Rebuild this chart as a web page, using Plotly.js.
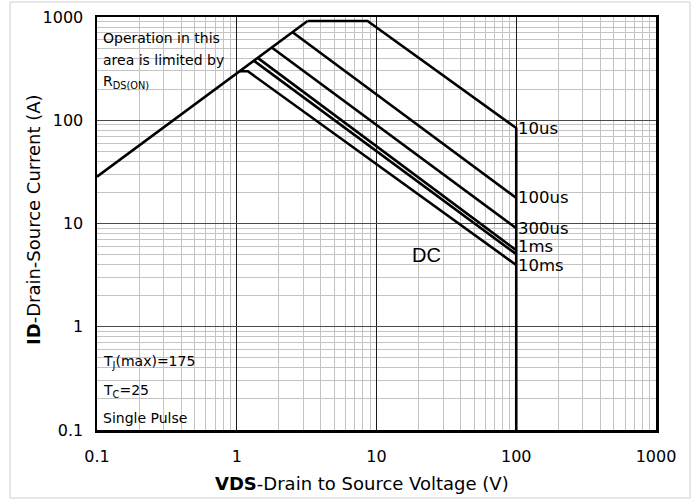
<!DOCTYPE html>
<html>
<head>
<meta charset="utf-8">
<script src="https://cdn.plot.ly/plotly-3.0.1.min.js"></script>
<style>html,body{margin:0;padding:0;background:#fff;}#chart{width:697px;height:501px;}</style>
</head>
<body>
<div id="chart"></div>
<script>
// Data (VDS in V, ID in A)
const rdsV = [0.1, 3.21];
const rdsI = [28.4, 915];

const us10V = [3.21, 8.63, 100, 100];
const us10I = [915, 915, 84, 0.1];

const us100V = [2.51, 100];
const us100I = [713, 17.7];

const us300V = [1.78, 100];
const us300I = [506, 9.0];

const ms1V = [1.42, 100];
const ms1I = [400, 5.5];

const dcV = [1.33, 100];
const dcI = [376, 5.05];

const ms10V = [1.05, 1.2, 100];
const ms10I = [298, 298, 3.96];

const tickVals = [0.1, 1, 10, 100, 1000];
const tickText = ["0.1", "1", "10", "100", "1000"];

const endLabels = ["10us", "100us", "300us", "1ms", "10ms"];
const endValues = [84, 17.7, 8.9, 6.05, 3.96];

const xTitle = '<b>VDS</b>-Drain to Source Voltage (V)';
const yTitle = '<b>ID</b>-Drain-Source Current (A)';

function minorVals(lo, hi) {
  const out = [];
  for (let e = lo; e < hi; e++) for (let m = 2; m <= 9; m++) out.push(m * Math.pow(10, e));
  return out;
}

const lineStyle = {color: '#000', width: 2.6};
const mk = (x, y, name) => ({x: x, y: y, name: name, type: 'scatter', mode: 'lines', line: lineStyle, hoverinfo: 'skip'});

const traces = [
  mk(rdsV, rdsI, 'RDS(ON) limit'),
  mk(us10V, us10I, '10us'),
  mk(us100V, us100I, '100us'),
  mk(us300V, us300I, '300us'),
  mk(ms1V, ms1I, '1ms'),
  mk(dcV, dcI, 'DC'),
  mk(ms10V, ms10I, '10ms')
];

const F = 'DejaVu Sans, Verdana, sans-serif';
const FA = 'Liberation Sans, Arial, sans-serif';
const pyP = py => (430 - py) / 413;
const pxP = px => (px - 97) / 559;

const annotations = [];
endLabels.forEach((t, i) => {
  annotations.push({x: 2, y: Math.log10(endValues[i]), xref: 'x', yref: 'y', text: t, showarrow: false,
    xanchor: 'left', yanchor: 'middle', xshift: 0, font: {family: F, size: 16.5, color: '#000'}});
});
annotations.push({x: pxP(410), y: pyP(255), xref: 'paper', yref: 'paper', text: 'DC', showarrow: false,
  xanchor: 'left', yanchor: 'middle', font: {family: FA, size: 20, color: '#000'}});
const smallTxt = [
  ['Operation in this', 38], ['area is limited by', 60], ['R<sub>DS(ON)</sub>', 82],
  ['T<sub>J</sub>(max)=175', 362], ['T<sub>C</sub>=25', 391], ['Single Pulse', 418]
];
smallTxt.forEach(s => {
  annotations.push({x: pxP(101), y: pyP(s[1]), xref: 'paper', yref: 'paper', text: s[0], showarrow: false,
    xanchor: 'left', yanchor: 'middle', font: {family: F, size: 14, color: '#000'}});
});
// axis titles
annotations.push({x: pxP(362), y: pyP(483), xref: 'paper', yref: 'paper', text: xTitle, showarrow: false,
  xanchor: 'center', yanchor: 'middle', font: {family: F, size: 18, color: '#000'}});
annotations.push({x: pxP(33), y: pyP(220), xref: 'paper', yref: 'paper', text: yTitle, showarrow: false, textangle: -90,
  xanchor: 'center', yanchor: 'middle', font: {family: F, size: 18, color: '#000'}});

const axisCommon = {
  type: 'log', tickmode: 'array', tickvals: tickVals, ticktext: tickText,
  showline: true, linecolor: '#000', linewidth: 2.5, mirror: true,
  ticks: '', zeroline: false, showgrid: true, gridwidth: 1,
  tickfont: {family: F, size: 16, color: '#000'}
};

const layout = {
  width: 697, height: 501,
  margin: {l: 97, r: 41, t: 17, b: 71},
  paper_bgcolor: '#fff', plot_bgcolor: '#fff',
  showlegend: false,
  xaxis: Object.assign({}, axisCommon, {
    range: [-1, 3], gridcolor: '#1a1a1a', ticklabelstandoff: 10,
    minor: {tickmode: 'array', tickvals: minorVals(-1, 3), showgrid: true, gridcolor: '#c4c4c4', gridwidth: 1, ticks: ''}
  }),
  yaxis: Object.assign({}, axisCommon, {
    range: [-1, 3], gridcolor: '#4a4a4a', ticklabelstandoff: 8,
    minor: {tickmode: 'array', tickvals: minorVals(-1, 3), showgrid: true, gridcolor: '#c4c4c4', gridwidth: 1, ticks: ''}
  }),
  annotations: annotations,
  shapes: [{type: 'rect', xref: 'paper', yref: 'paper', x0: pxP(10), x1: pxP(690), y0: pyP(498), y1: pyP(2),
    line: {color: '#d0d0d0', width: 1}, fillcolor: 'rgba(0,0,0,0)', layer: 'below'}]
};

Plotly.newPlot('chart', traces, layout, {displayModeBar: false, staticPlot: true});
</script>
</body>
</html>
